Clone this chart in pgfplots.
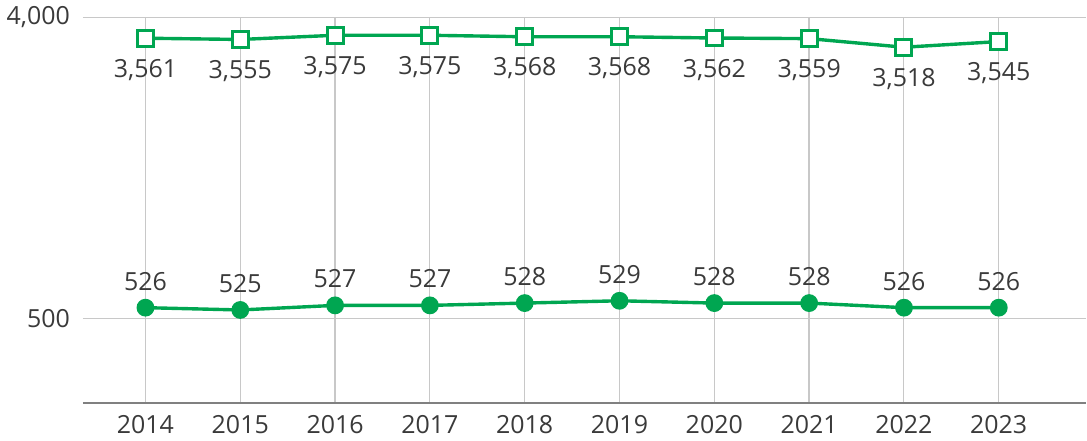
\documentclass[border=0pt]{standalone}
\usepackage{pgfplots}
\pgfplotsset{compat=1.18}
\usepackage{fontspec}
\setmainfont{Open Sans}
\definecolor{lineGreen}{HTML}{00A651}
\definecolor{txt}{HTML}{3A3A3A}
\definecolor{gridGray}{HTML}{C8C8C8}
\definecolor{axisGray}{HTML}{808080}

\begin{document}
\begin{tikzpicture}
\begin{axis}[
    scale only axis,
    width=502.5pt, height=193pt,
    xmin=2013.34, xmax=2023.92,
    ymin=0, ymax=386,
    % two separate scales on one axis: values are mapped to their drawn height
    y filter/.expression={y>2000 ? 368-(3575-y)*0.21 : 102-(529-y)*2.3},
    xtick={2014,...,2023},
    ytick={84,386},
    yticklabels={500,{4,000}},
    xmajorgrids, ymajorgrids,
    grid style={gridGray, line width=0.6pt},
    axis x line*=bottom,
    axis y line*=left,
    y axis line style={draw=none},
    x axis line style={axisGray, line width=1pt, -},
    major tick length=0pt,
    tick label style={font=\fontsize{12.5}{15}\selectfont, text=txt},
    /pgf/number format/assume math mode=true,
    x tick label style={/pgf/number format/1000 sep={}, yshift=-3pt},
    y tick label style={xshift=-3pt},
    clip=false,
    point meta=explicit,
    nodes near coords={\pgfmathprintnumber[fixed,precision=0,1000 sep={,},assume math mode=true]{\pgfplotspointmeta}},
    every node near coord/.append style={font=\fontsize{12.5}{15}\selectfont, text=txt},
]
\addplot[lineGreen, line width=1.7pt, mark=square*, mark size=4pt,
    mark options={fill=white, draw=lineGreen, line width=1.5pt},
    nodes near coords align={below}, every node near coord/.append style={yshift=-6.5pt}]
  table[x=yr, y=v, meta=v] {
yr   v
2014 3561
2015 3555
2016 3575
2017 3575
2018 3568
2019 3568
2020 3562
2021 3559
2022 3518
2023 3545
};
\addplot[lineGreen, line width=1.7pt, mark=*, mark size=3.6pt,
    mark options={fill=lineGreen, draw=lineGreen},
    nodes near coords align={above}, every node near coord/.append style={yshift=4.5pt}]
  table[x=yr, y=v, meta=v] {
yr   v
2014 526
2015 525
2016 527
2017 527
2018 528
2019 529
2020 528
2021 528
2022 526
2023 526
};
\end{axis}
\end{tikzpicture}
\end{document}
